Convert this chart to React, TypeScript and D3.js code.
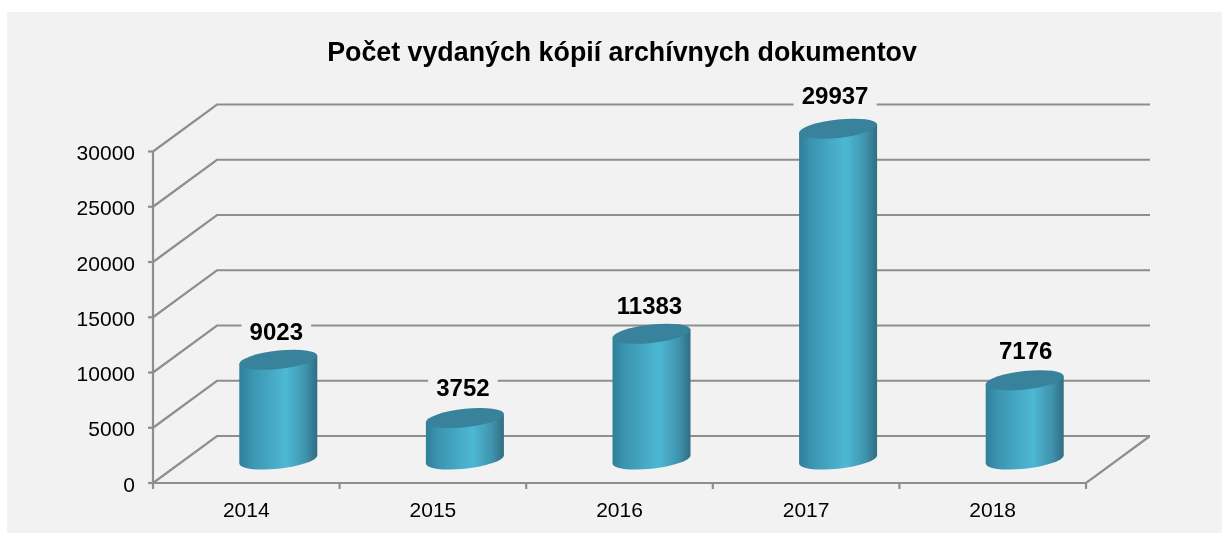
import * as d3 from "d3";

const years = ["2014", "2015", "2016", "2017", "2018"];
const copies = [9023, 3752, 11383, 29937, 7176];
const yTicks = [0, 5000, 10000, 15000, 20000, 25000, 30000];
const title = "Počet vydaných kópií archívnych dokumentov";

// data labels were moved by hand in the original
const labelNudgeX = [-2, -2, -2, -3, 1];
const labelNudgeY = [0, -2, 0, -5, -1];

const W = 1222;
const H = 533;
const depthX = 64;
const depthY = -47;
const barHalf = 39;
const capRy = 9.2;
const capSkew = -0.105;
const FONT = "'Liberation Sans', Arial, sans-serif";
const GRID = "#8e8e8e";

const x = d3.scaleBand().domain(years).range([153, 1086]);
const y = d3.scaleLinear().domain([0, 30000]).range([483, 151.5]);

export default function App() {
  const edges = [...years.map((d) => x(d)!), x.range()[1]];

  return (
    <svg
      width={W}
      height={H}
      style={{ position: "absolute", left: 0, top: 0, background: "#fff" }}
    >
      <defs>
        <linearGradient id="body" x1="0" x2="1" y1="0" y2="0">
          <stop offset="0" stopColor="#2f7f99" />
          <stop offset="0.15" stopColor="#3a94b0" />
          <stop offset="0.6" stopColor="#4eb8d4" />
          <stop offset="0.85" stopColor="#3f93ad" />
          <stop offset="1" stopColor="#2f6d82" />
        </linearGradient>
        <filter id="soft" x="0" y="0" width="100%" height="100%">
          <feGaussianBlur stdDeviation="0.4" />
        </filter>
      </defs>
      <rect x={7} y={12} width={W - 7} height={H - 12} fill="#f2f2f2" />

      <g filter="url(#soft)">
        <text
          x={622}
          y={61}
          textAnchor="middle"
          fontFamily={FONT}
          fontSize={26.8}
          fontWeight="bold"
          fill="#000"
        >
          {title}
        </text>

        {/* back wall lines and side wall diagonals */}
        <g stroke={GRID} strokeWidth={2.2} fill="none">
          {yTicks.map((t) => (
            <path
              key={t}
              d={`M${x.range()[0]},${y(t)}L${x.range()[0] + depthX},${y(t) + depthY}L${x.range()[1] + depthX},${y(t) + depthY}`}
            />
          ))}
          <path d={`M${x.range()[0]},${y(30000)}V${y(0)}H${x.range()[1]}l${depthX},${depthY}`} />
          {yTicks.map((t) => (
            <path key={t} d={`M${x.range()[0] - 5},${y(t)}h5`} />
          ))}
          {edges.map((e) => (
            <path key={e} d={`M${e},${y(0)}v6`} />
          ))}
        </g>

        <g fontFamily={FONT} fontSize={21} fill="#000">
          {yTicks.map((t) => (
            <text key={t} x={135} y={y(t) + 8.5} textAnchor="end">
              {t}
            </text>
          ))}
          {years.map((d) => (
            <text key={d} x={x(d)! + x.bandwidth() / 2} y={517} textAnchor="middle">
              {d}
            </text>
          ))}
        </g>

        {years.map((d, i) => {
          const cx = x(d)! + x.bandwidth() / 2 + depthX / 2;
          const top = y(copies[i]) + depthY / 2;
          const h = y(0) - y(copies[i]);
          const label = String(copies[i]);
          const boxW = label.length * 13.4 + 16;
          const lx = cx + labelNudgeX[i];
          const ly = top - 20 + labelNudgeY[i];
          return (
            <g key={d}>
              <rect x={lx - boxW / 2} y={ly - 24} width={boxW} height={30} fill="#f2f2f2" />
              <text
                x={lx}
                y={ly}
                textAnchor="middle"
                fontFamily={FONT}
                fontSize={24}
                fontWeight="bold"
                fill="#000"
              >
                {label}
              </text>
              <g transform={`matrix(1,${capSkew},0,1,${cx},${top})`}>
                <path
                  d={`M${-barHalf},0V${h}A${barHalf},${capRy} 0 0 0 ${barHalf},${h}V0Z`}
                  fill="url(#body)"
                />
                <ellipse rx={barHalf} ry={capRy} fill="#37829b" />
              </g>
            </g>
          );
        })}
      </g>
    </svg>
  );
}
